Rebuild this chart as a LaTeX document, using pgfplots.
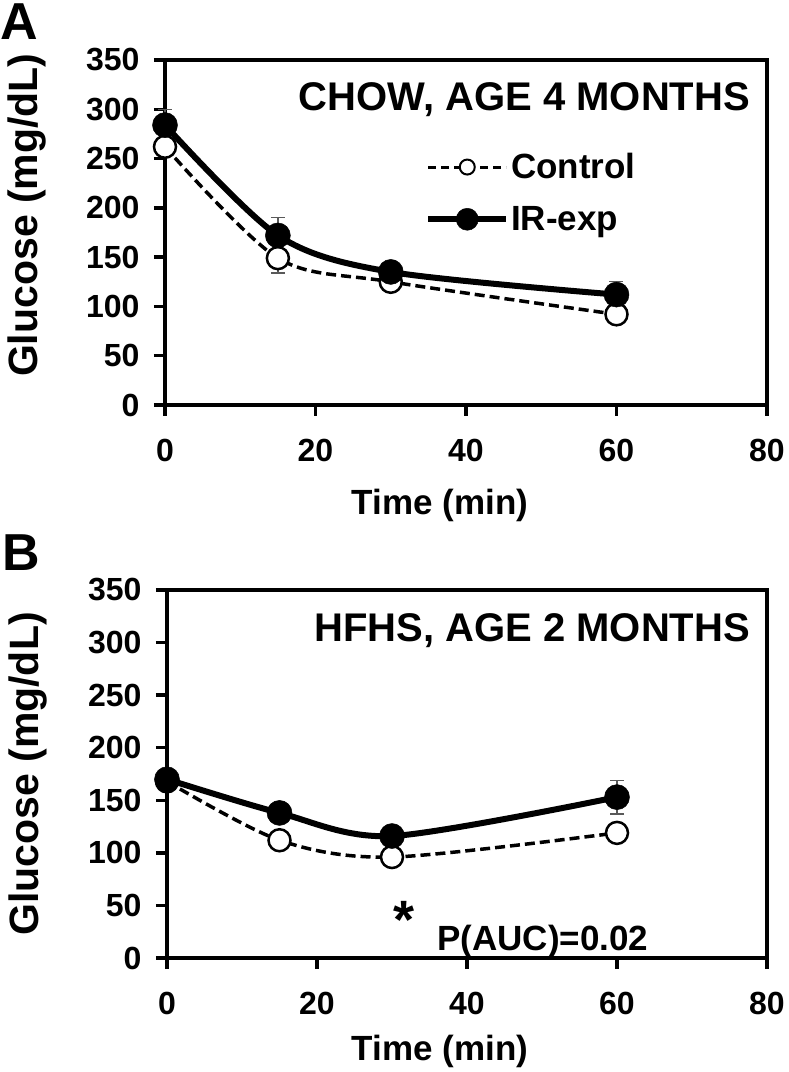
\documentclass[border=0pt]{standalone}
\usepackage{fontspec}
\setmainfont{Liberation Sans}
\usepackage{pgfplots}
\usepackage{pgfplotstable}
\pgfplotsset{compat=1.18}

\pgfplotstableread{
x y
0 262
15 149
30 125
60 92
}\AControl
\pgfplotstableread{
x y
0 284
15 172
30 135
60 112
}\AIR
\pgfplotstableread{
x y ep em
15 149 0 15
}\AControlErr
\pgfplotstableread{
x y ep em
0 284 16 0
15 172 18 0
60 112 13 0
}\AIRErr
\pgfplotstableread{
x y
0 168
15 112
30 96
60 119
}\BControl
\pgfplotstableread{
x y
0 170
15 138
30 116
60 153
}\BIR
\pgfplotstableread{
x y ep em
60 153 16 16
}\BIRErr

\pgfplotsset{
  myaxis/.style={
    scale only axis, xmin=0, xmax=80, ymin=0, ymax=350,
    xtick={0,20,40,60,80}, ytick={0,50,...,350},
    tick align=outside, tick pos=left,
    major tick length=11pt,
    every tick/.style={black, line width=3.5pt},
    axis line style={line width=4pt},
    ticklabel style={font=\fontsize{32}{38}\selectfont\bfseries},
    xticklabel style={yshift=-20pt},
    yticklabel style={xshift=-11pt},
    /pgf/number format/assume math mode=true,
    xlabel style={font=\fontsize{35}{42}\selectfont\bfseries, anchor=center},
    ylabel style={font=\fontsize{41}{48}\selectfont\bfseries, anchor=center},
    xlabel={Time (min)}, ylabel={Glucose (mg/dL)},
    clip=false,
  },
  ctrl/.style={black, line width=3.5pt, dash pattern=on 10pt off 5pt, smooth, tension=0.5,
    mark=*, mark size=11pt, mark options={solid, fill=white, line width=2.5pt}},
  irexp/.style={black, line width=6pt, smooth, tension=0.5,
    mark=*, mark size=12.5pt, mark options={solid, fill=black, line width=0.5pt}},
  errs/.style={only marks, mark=none, forget plot,
    error bars/y dir=both, error bars/y explicit,
    error bars/error bar style={solid, line width=1.3pt, black!65},
    error bars/error mark options={rotate=90, mark size=7pt, line width=1.3pt, black!65, solid}},
}

\begin{document}
\begin{tikzpicture}
\useasboundingbox (0,0) rectangle (788pt,1072pt);

% Panel A
\begin{axis}[myaxis, at={(165pt,667pt)}, anchor=south west, width=602pt, height=345pt,
  xlabel style={at={(axis description cs:0.457,-0.29)}},
  ylabel style={at={(axis description cs:-0.229,0.55)}},
  legend style={draw=none, fill=none, at={(rel axis cs:0.432,0.735)}, anchor=north west,
    inner sep=0pt, row sep=22pt, font=\fontsize{35}{42}\selectfont\bfseries},
  legend cell align=left,
  legend image code/.code={\draw[mark repeat=2,mark phase=2,#1] plot coordinates {(0pt,0pt) (39pt,0pt) (78pt,0pt)};},
]
\addplot[errs] table[x=x, y=y, y error plus=ep, y error minus=em] {\AControlErr};
\addplot[errs] table[x=x, y=y, y error plus=ep, y error minus=em] {\AIRErr};
\addplot[ctrl, forget plot] table[x=x, y=y] {\AControl};
\addplot[irexp, forget plot] table[x=x, y=y] {\AIR};
\addlegendimage{black, line width=3pt, dash pattern=on 8pt off 5pt, mark=*, mark size=7.5pt, mark options={solid, fill=white, line width=2pt}}
\addlegendentry{Control}
\addlegendimage{black, line width=6pt, mark=*, mark size=11pt, mark options={solid, fill=black, line width=0.5pt}}
\addlegendentry{IR-exp}
\node[anchor=base east, inner sep=0pt, font=\fontsize{40}{48}\selectfont\bfseries] at (rel axis cs:0.972,0.855) {CHOW, AGE 4 MONTHS};
\end{axis}

% Panel B
\begin{axis}[myaxis, at={(167pt,114pt)}, anchor=south west, width=600pt, height=368pt,
  xlabel style={at={(axis description cs:0.455,-0.255)}},
  ylabel style={at={(axis description cs:-0.232,0.5)}},
]
\addplot[errs] table[x=x, y=y, y error plus=ep, y error minus=em] {\BIRErr};
\addplot[ctrl] table[x=x, y=y] {\BControl};
\addplot[irexp] table[x=x, y=y] {\BIR};
\node[anchor=base east, inner sep=0pt, font=\fontsize{40}{48}\selectfont\bfseries] at (rel axis cs:0.972,0.861) {HFHS, AGE 2 MONTHS};
\node[anchor=base, inner sep=0pt, font=\fontsize{54}{60}\selectfont\bfseries] at (axis cs:31.6,19) {*};
\node[anchor=base west, inner sep=0pt, font=\fontsize{35}{42}\selectfont\bfseries] at (axis cs:36,7) {P(AUC)=0.02};
\end{axis}

\node[anchor=north west, inner sep=0pt, font=\fontsize{52}{60}\selectfont\bfseries] at (0pt,1068pt) {A};
\node[anchor=north west, inner sep=0pt, font=\fontsize{52}{60}\selectfont\bfseries] at (2pt,537pt) {B};
\end{tikzpicture}
\end{document}
